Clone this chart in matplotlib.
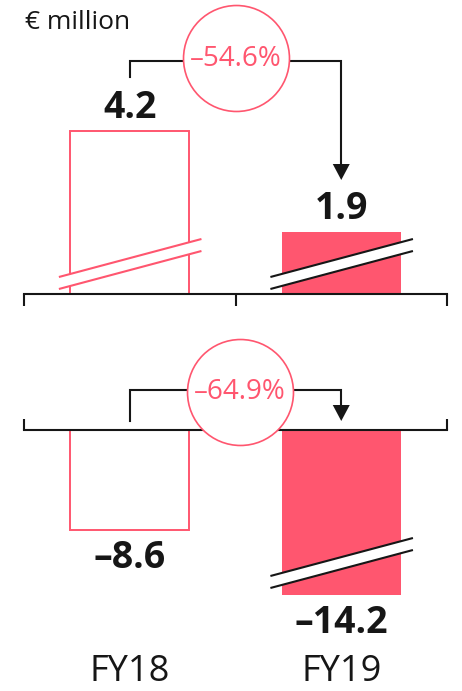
import matplotlib
matplotlib.use("Agg")
import matplotlib.pyplot as plt
import matplotlib.transforms as mtransforms
from matplotlib.patches import Polygon

plt.rcParams["font.family"] = ["Open Sans", "DejaVu Sans"]

# ---- data ----
years = ["FY18", "FY19"]
profit = [4.2, 1.9]            # upper panel (€ million)
loss = [-8.6, -14.2]           # lower panel (€ million)
profit_change_pct = -54.6
loss_change_pct = -64.9
unit_label = "€ million"

# ---- style ----
PINK = "#FF566F"
INK = "#161616"
W, H, DPI = 462, 691, 100

fig = plt.figure(figsize=(W / DPI, H / DPI), dpi=DPI)
fig.patch.set_facecolor("white")

# pixel-from-top coordinates for layout elements
px = mtransforms.Affine2D().scale(1 / W, -1 / H).translate(0, 1) + fig.transFigure


def fx(x):
    return x / W


def fy(y):
    return 1 - y / H


LEFT, RIGHT = 24, 447
TOP_BASE = 294          # baseline of upper panel (px from top)
TOP_K = 43.9            # px per € million, upper panel
TOP_FLOOR = 0.49        # upper axis is truncated (broken) below this value
BOT_BASE = 430
BOT_K = 11.6

xpos = list(range(len(years)))
bar_w = 0.562

# upper panel
top_ax = fig.add_axes([fx(LEFT), fy(TOP_BASE), fx(RIGHT) - fx(LEFT), TOP_BASE / H])
top_ax.set_xlim(-0.5, 1.5)
top_ax.set_ylim(TOP_FLOOR, TOP_FLOOR + TOP_BASE / TOP_K)

# lower panel
bot_ax = fig.add_axes([fx(LEFT), 0, fx(RIGHT) - fx(LEFT), (H - BOT_BASE) / H])
bot_ax.set_xlim(-0.5, 1.5)
bot_ax.set_ylim(-(H - BOT_BASE) / BOT_K, 0)

for ax, spine in ((top_ax, "bottom"), (bot_ax, "top")):
    ax.set_facecolor("none")
    for s in ax.spines.values():
        s.set_visible(False)
    ax.spines[spine].set_visible(True)
    ax.spines[spine].set_color(INK)
    ax.spines[spine].set_linewidth(1.5)
    ax.set_yticks([])
    ax.set_xticks([-0.5, 0.5, 1.5])

top_ax.tick_params(axis="x", direction="out", length=8.6, width=1.5, color=INK,
                   labelbottom=False)
bot_ax.xaxis.tick_top()
bot_ax.tick_params(axis="x", direction="out", length=8.0, width=1.5, color=INK,
                   labeltop=False)

faces = ["white", PINK]
edges = [PINK, PINK]
lws = [1.4, 0]

for ax, vals in ((top_ax, profit), (bot_ax, loss)):
    for i, v in enumerate(vals):
        ax.bar(xpos[i], v, width=bar_w, color=faces[i], edgecolor=edges[i],
               linewidth=lws[i], zorder=2)

# value labels
for i, v in enumerate(profit):
    top_ax.annotate(f"{v:.1f}", xy=(xpos[i], v), xytext=(0, 9.7),
                    textcoords="offset points", ha="center", va="baseline",
                    fontsize=27, fontweight="bold", color=INK, annotation_clip=False)
for i, v in enumerate(loss):
    bot_ax.annotate(f"–{abs(v):.1f}", xy=(xpos[i], v), xytext=(0, -27.4),
                    textcoords="offset points", ha="center", va="baseline",
                    fontsize=27, fontweight="bold", color=INK, annotation_clip=False)

# category labels
tr_bot = mtransforms.blended_transform_factory(bot_ax.transData, px)
for i, name in enumerate(years):
    bot_ax.text(xpos[i], 681, name, transform=tr_bot, ha="center", va="baseline",
                fontsize=26, color=INK, clip_on=False)


def axis_break(ax, xc, y_left, color):
    """Two parallel slanted strokes with a white gap, marking a broken bar."""
    tr = mtransforms.blended_transform_factory(ax.transData, px)
    xl, xr = xc - 0.335, xc + 0.339
    rise, gap = 38, 12
    band = Polygon([(xl, y_left), (xr, y_left - rise),
                    (xr, y_left - rise + gap), (xl, y_left + gap)],
                   closed=True, transform=tr, facecolor="white",
                   edgecolor="none", zorder=3, clip_on=False)
    ax.add_patch(band)
    for off in (0, gap):
        ax.plot([xl, xr], [y_left + off, y_left - rise + off], transform=tr,
                color=color, lw=1.5, solid_capstyle="butt", zorder=4, clip_on=False)


axis_break(top_ax, xpos[0], 277, PINK)
axis_break(top_ax, xpos[1], 277, INK)
axis_break(bot_ax, xpos[1], 576, INK)


def change_marker(ax, y_bar, y_left_end, y_tip, xc_circle, yc_circle, pct):
    tr = mtransforms.blended_transform_factory(ax.transData, px)
    head_h, head_half = 16, 8.5 / 211.5
    ax.plot([xpos[0], xpos[0], xpos[1], xpos[1]],
            [y_left_end, y_bar, y_bar, y_tip - head_h + 1], transform=tr,
            color=INK, lw=1.5, solid_joinstyle="miter", zorder=5, clip_on=False)
    head = Polygon([(xpos[1] - head_half, y_tip - head_h),
                    (xpos[1] + head_half, y_tip - head_h),
                    (xpos[1], y_tip)], closed=True, transform=tr,
                   facecolor=INK, edgecolor="none", zorder=5, clip_on=False)
    ax.add_patch(head)
    ax.plot([xc_circle], [yc_circle], transform=tr, marker="o", markersize=76.3,
            markerfacecolor="white", markeredgecolor=PINK, markeredgewidth=1.2,
            zorder=6, clip_on=False)
    ax.text(xc_circle, yc_circle, f"–{abs(pct):.1f}%", transform=tr,
            ha="center", va="center", fontsize=20, color=PINK, zorder=7,
            clip_on=False)


change_marker(top_ax, 61, 77, 180, 0.5, 58.5, profit_change_pct)
change_marker(bot_ax, 390, 421, 421, 0.52, 392, loss_change_pct)

fig.text(fx(25), fy(29), unit_label, ha="left", va="baseline", fontsize=19,
         color=INK)

fig.savefig("out.png", dpi=DPI, facecolor="white")
